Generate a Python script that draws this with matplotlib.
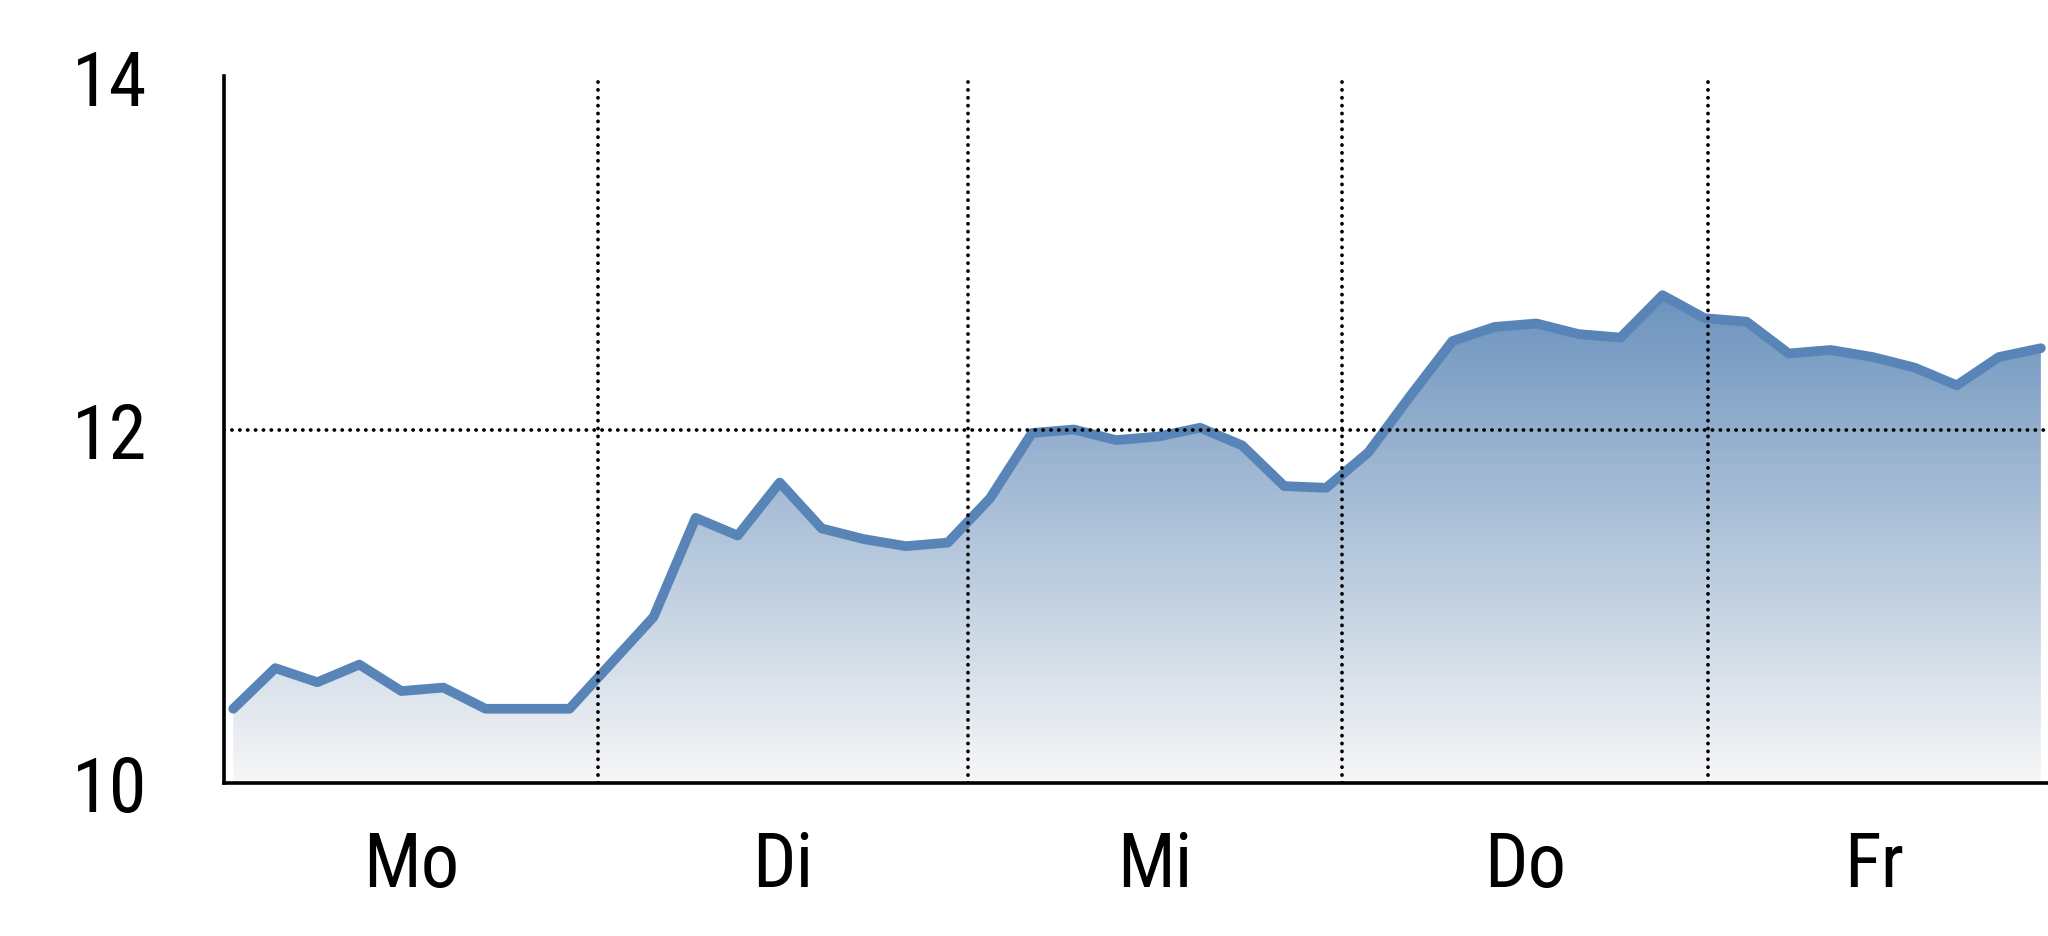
import numpy as np
import matplotlib
matplotlib.use("Agg")
import matplotlib.pyplot as plt
from matplotlib.patches import Polygon
from matplotlib.colors import LinearSegmentedColormap
from matplotlib import font_manager

# ---- data ----
days = ["Mo", "Di", "Mi", "Do", "Fr"]
day_bounds = [-0.22, 8.68, 17.48, 26.37, 35.09, 43.0]
values = [10.42, 10.65, 10.57, 10.67, 10.52, 10.54, 10.42, 10.42, 10.42,
          10.68, 10.94, 11.50, 11.40, 11.70, 11.44, 11.38, 11.34, 11.36,
          11.61, 11.98, 12.00, 11.94, 11.96, 12.01, 11.91, 11.68, 11.67,
          11.87, 12.19, 12.50, 12.58, 12.60, 12.54, 12.52, 12.76, 12.63,
          12.61, 12.43, 12.45, 12.41, 12.35, 12.25, 12.41, 12.46]
y_ticks = [10, 12, 14]
y_grid = [12]

# pick a condensed sans family if one is installed
names = sorted({f.name for f in font_manager.fontManager.ttflist})
prefs = ['Liberation Sans Narrow', 'Arial Narrow', 'Roboto Condensed',
         'Open Sans Condensed', 'DejaVu Sans Condensed', 'Noto Sans Condensed']
cond = [n for n in prefs if n in names]
if not cond:
    cond = [n for n in names if ('Narrow' in n or 'Condensed' in n)
            and 'Mono' not in n and 'Serif' not in n]
plt.rcParams['font.family'] = cond[:1] + ['Liberation Sans', 'DejaVu Sans']

W, H = 2048, 937
fig = plt.figure(figsize=(W / 100, H / 100), dpi=100)
ax = fig.add_axes([224 / W, (H - 784) / H, (W - 224) / W, (784 - 77) / H])

x = np.arange(len(values))
y = np.array(values)

ymin, ymax = 10, 14

# gradient fill under the line
verts = [(x[0], ymin)] + list(zip(x, y)) + [(x[-1], ymin)]
poly = Polygon(verts, closed=True, facecolor='none', edgecolor='none')
ax.add_patch(poly)
cmap = LinearSegmentedColormap.from_list("g", ["#f7f7f7", "#6c93be"])
grad = np.linspace(0, 1, 256).reshape(-1, 1)
im = ax.imshow(grad, extent=[x[0], x[-1], ymin, y.max()], aspect='auto',
               origin='lower', cmap=cmap, zorder=1, interpolation='bilinear')
im.set_clip_path(poly)

# line
ax.plot(x, y, color="#5884b7", lw=7.0, solid_joinstyle='round',
        solid_capstyle='round', zorder=3)

# dotted grid
dot = dict(color='black', lw=2.7, linestyle=(0, (0.05, 2.05)),
           dash_capstyle='round', zorder=4)
for g in y_grid:
    ax.axhline(g, **dot)
for b in day_bounds[1:-1]:
    ax.axvline(b, **dot)

ax.set_xlim(-0.22, 43.17)
ax.set_ylim(ymin, ymax)

# spines
for s in ['top', 'right']:
    ax.spines[s].set_visible(False)
for s in ['left', 'bottom']:
    ax.spines[s].set_linewidth(2.6)
    ax.spines[s].set_color('black')
    ax.spines[s].set_zorder(5)

ax.set_yticks(y_ticks)
ax.set_yticklabels([str(t) for t in y_ticks])
mids = [(day_bounds[i] + day_bounds[i + 1]) / 2 for i in range(len(days))]
ax.set_xticks(mids)
ax.set_xticklabels(days)
ax.tick_params(axis='y', length=0, pad=55, labelsize=55)
ax.tick_params(axis='x', length=0, pad=33, labelsize=55)

fig.savefig("out.png", dpi=100, facecolor='white')
